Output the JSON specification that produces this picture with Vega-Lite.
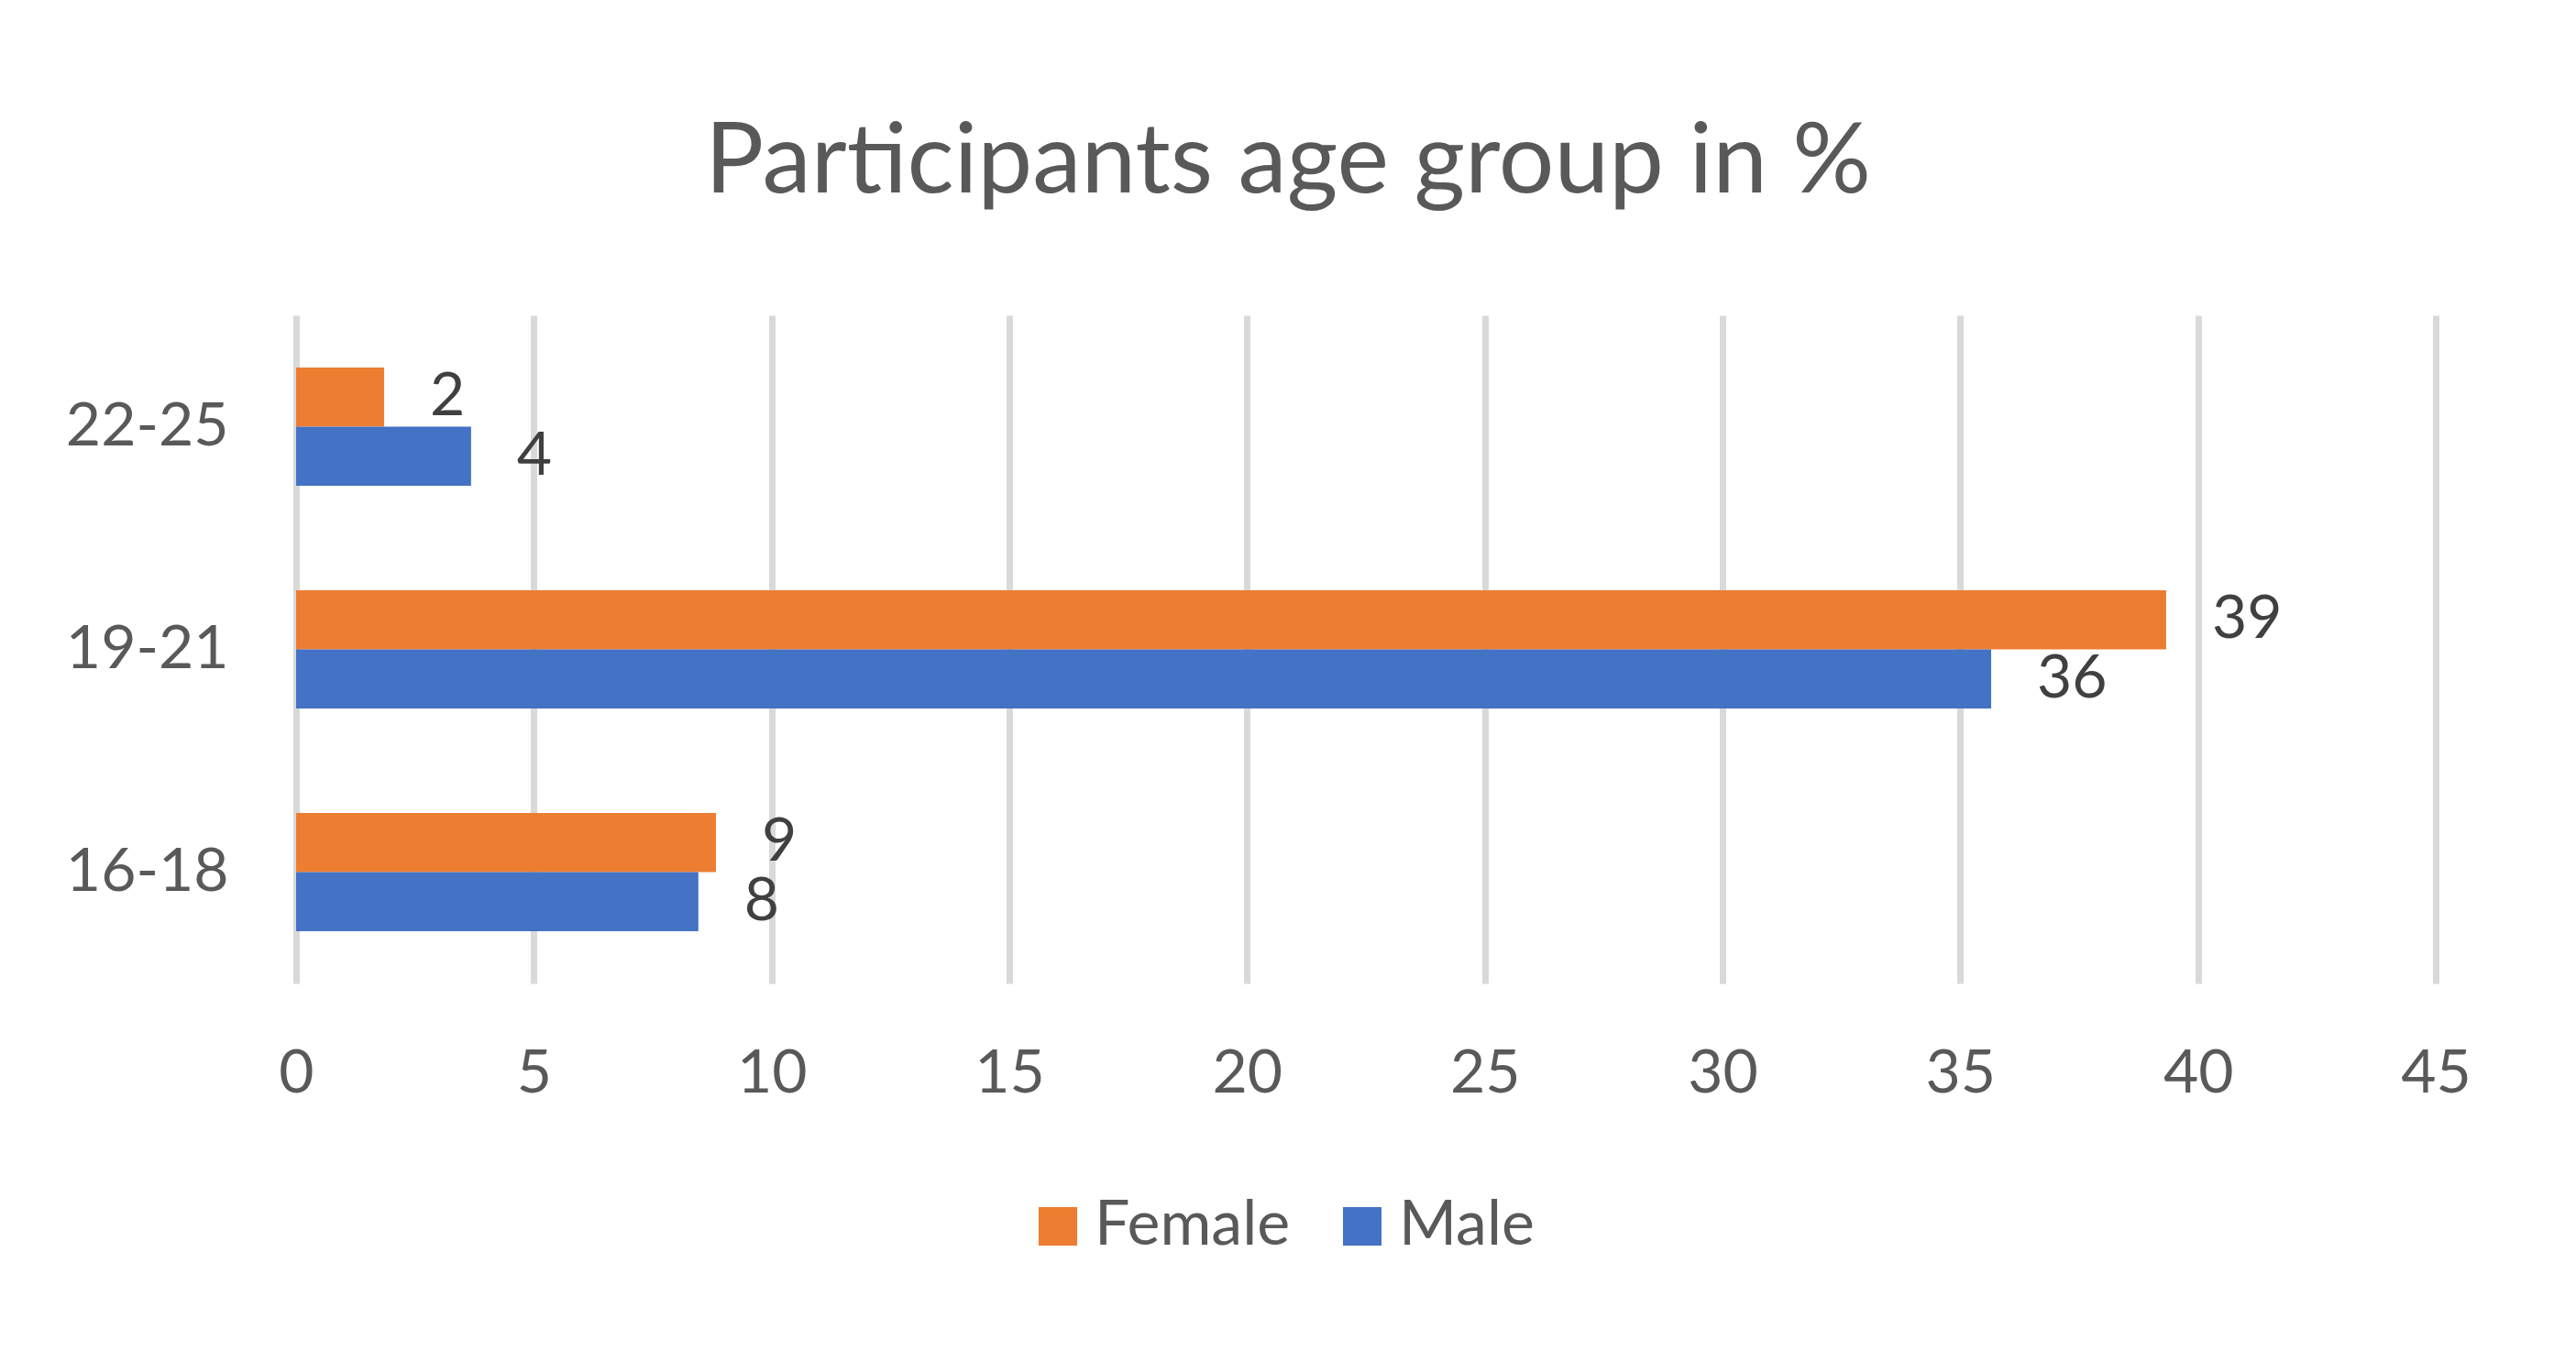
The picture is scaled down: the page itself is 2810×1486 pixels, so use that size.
{
  "$schema": "https://vega.github.io/schema/vega-lite/v6.json",
  "width": 2334,
  "height": 729,
  "autosize": {"type": "none"},
  "padding": {"left": 323, "top": 344, "right": 153, "bottom": 413},
  "background": "white",
  "title": {
    "text": "Participants age group in %",
    "fontSize": 107,
    "font": "Lato",
    "fontWeight": "normal",
    "color": "#595959",
    "anchor": "middle",
    "frame": "group",
    "dx": -85,
    "offset": 112
  },
  "data": {
    "values": [
      {"age": "22-25", "sex": "Female", "pct": 1.85},
      {"age": "22-25", "sex": "Male", "pct": 3.68},
      {"age": "19-21", "sex": "Female", "pct": 39.33},
      {"age": "19-21", "sex": "Male", "pct": 35.65},
      {"age": "16-18", "sex": "Female", "pct": 8.83},
      {"age": "16-18", "sex": "Male", "pct": 8.46}
    ]
  },
  "encoding": {
    "y": {
      "field": "age",
      "type": "nominal",
      "sort": ["22-25", "19-21", "16-18"],
      "scale": {"paddingInner": 0.469, "paddingOuter": 0.2345},
      "axis": {
        "title": null,
        "ticks": false,
        "domain": false,
        "labelPadding": 74,
        "labelFontSize": 66,
        "labelColor": "#595959",
        "labelFont": "Lato"
      }
    },
    "yOffset": {"field": "sex", "type": "nominal", "sort": ["Female", "Male"]},
    "x": {
      "field": "pct",
      "type": "quantitative",
      "scale": {"domain": [0, 45], "nice": false},
      "axis": {
        "values": [0, 5, 10, 15, 20, 25, 30, 35, 40, 45],
        "title": null,
        "ticks": false,
        "domain": false,
        "grid": true,
        "gridColor": "#d9d9d9",
        "gridWidth": 7,
        "labelFlush": false,
        "labelOverlap": false,
        "labelPadding": 66,
        "labelFontSize": 66,
        "labelColor": "#595959",
        "labelFont": "Lato"
      }
    }
  },
  "layer": [
    {
      "mark": {"type": "bar"},
      "encoding": {
        "color": {
          "field": "sex",
          "type": "nominal",
          "scale": {"domain": ["Female", "Male"], "range": ["#ED7D31", "#4472C4"]},
          "legend": {
            "orient": "none",
            "legendX": 797,
            "legendY": 960,
            "direction": "horizontal",
            "title": null,
            "symbolType": "square",
            "symbolSize": 1764,
            "symbolStrokeWidth": 0,
            "labelFontSize": 68,
            "labelFont": "Lato",
            "labelColor": "#595959",
            "labelLimit": 600,
            "labelOffset": 6,
            "columnPadding": 44
          }
        }
      }
    },
    {
      "mark": {
        "type": "text",
        "align": "left",
        "baseline": "middle",
        "dx": 50,
        "fontSize": 66,
        "font": "Lato",
        "color": "#404040"
      },
      "encoding": {"text": {"field": "pct", "type": "quantitative", "format": ".0f"}}
    }
  ],
  "config": {"view": {"stroke": null}}
}
